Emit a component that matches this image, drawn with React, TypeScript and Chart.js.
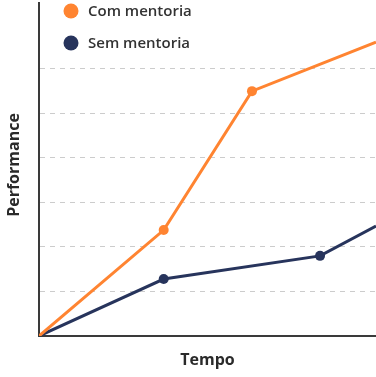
import React, { useEffect, useRef } from "react";
import { Chart, registerables } from "chart.js";

Chart.register(...registerables);

const seriesNames = ["Com mentoria", "Sem mentoria"];
const comX = [0, 3.7, 6.32, 10];
const comY = [0, 2.38, 5.5, 6.6];
const semX = [0, 3.7, 8.34, 10];
const semY = [0, 1.28, 1.8, 2.47];
const xTitle = "Tempo";
const yTitle = "Performance";

const ORANGE = "#FF8431";
const NAVY = "#27345C";

const overlay = {
  id: "overlay",
  afterDraw(chart: any) {
    const ctx = chart.ctx;
    const area = chart.chartArea;
    ctx.save();
    const items = [
      { label: seriesNames[0], color: ORANGE, y: 11 },
      { label: seriesNames[1], color: NAVY, y: 43 },
    ];
    items.forEach((it) => {
      ctx.beginPath();
      ctx.fillStyle = it.color;
      ctx.arc(71, it.y, 7.5, 0, Math.PI * 2);
      ctx.fill();
      ctx.fillStyle = "#333333";
      ctx.font = "600 15px 'Open Sans', sans-serif";
      ctx.textBaseline = "middle";
      ctx.textAlign = "left";
      ctx.fillText(it.label, 88, it.y + 1);
    });
    ctx.fillStyle = "#2a2a2a";
    ctx.font = "bold 16px 'Open Sans', sans-serif";
    ctx.textAlign = "center";
    ctx.textBaseline = "middle";
    ctx.fillText(xTitle, (area.left + area.right) / 2, 360);
    ctx.translate(14, 165);
    ctx.rotate(-Math.PI / 2);
    ctx.fillText(yTitle, 0, 0);
    ctx.restore();
  },
};

export default function App() {
  const ref = useRef<HTMLCanvasElement | null>(null);
  useEffect(() => {
    if (!ref.current) return;
    const chart = new Chart(ref.current, {
      type: "line",
      data: {
        datasets: [
          {
            label: seriesNames[0],
            data: comX.map((x, i) => ({ x, y: comY[i] })),
            borderColor: ORANGE,
            backgroundColor: ORANGE,
            borderWidth: 3,
            pointRadius: [0, 5, 5, 0],
            pointBorderWidth: 0,
          },
          {
            label: seriesNames[1],
            data: semX.map((x, i) => ({ x, y: semY[i] })),
            borderColor: NAVY,
            backgroundColor: NAVY,
            borderWidth: 3,
            pointRadius: [0, 5, 5, 0],
            pointBorderWidth: 0,
          },
        ],
      },
      options: {
        animation: false,
        responsive: false,
        maintainAspectRatio: false,
        layout: { padding: { left: 39, top: 3, right: 0, bottom: 41 } },
        plugins: { legend: { display: false }, tooltip: { enabled: false } },
        scales: {
          x: {
            type: "linear",
            min: 0,
            max: 10,
            ticks: { display: false },
            grid: { display: false, drawTicks: false },
            border: { display: true, color: "#3a3a3a", width: 2 },
          },
          y: {
            min: 0,
            max: 7.48,
            ticks: { display: false, stepSize: 1 },
            grid: {
              drawTicks: false,
              color: (c: any) =>
                c.tick && c.tick.value > 0 && c.tick.value < 7 ? "#cccccc" : "rgba(0,0,0,0)",
              lineWidth: 1,
            },
            border: { display: true, color: "#3a3a3a", width: 2, dash: [5, 5] } as any,
          },
        },
      },
      plugins: [overlay],
    });
    return () => chart.destroy();
  }, []);
  return (
    <div style={{ position: "fixed", left: 0, top: 0, width: 376, height: 377, background: "#fff" }}>
      <canvas ref={ref} width={376} height={377} style={{ width: 376, height: 377, display: "block" }} />
    </div>
  );
}
